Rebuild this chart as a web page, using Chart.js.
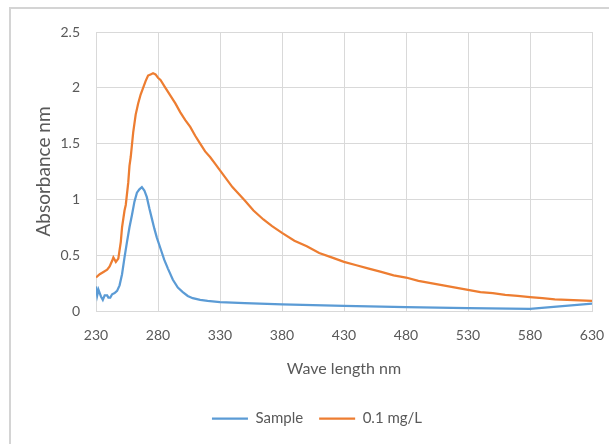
<!DOCTYPE html>
<html>
<head>
<meta charset="utf-8">
<script src="https://cdn.jsdelivr.net/npm/chart.js@4"></script>
<style>
html,body{margin:0;padding:0;background:#fff;}
#wrap{width:609px;height:444px;}
</style>
</head>
<body>
<div id="wrap"><canvas id="c" width="609" height="444"></canvas></div>
<script>
// Sample (blue)
const sampleWavelength = [230,231,232,233,234,235.5,237,239,240,241.5,243,245,247,249,251,253,255,257,259,261,263,265,267,269,271,273,275,277,279,282,285,288,292,296,300,304,308,314,320,330,350,380,430,480,530,580,630];
const sampleAbsorbance = [0.22,0.14,0.19,0.16,0.13,0.10,0.14,0.14,0.12,0.12,0.15,0.16,0.18,0.23,0.33,0.48,0.62,0.75,0.86,0.98,1.06,1.09,1.11,1.08,1.02,0.92,0.83,0.74,0.66,0.56,0.46,0.38,0.28,0.21,0.17,0.135,0.115,0.10,0.09,0.08,0.07,0.06,0.045,0.035,0.025,0.02,0.065];
// 0.1 mg/L (orange)
const stdWavelength = [230,233,236,239,241,243,244,246,248,250,251,253,254,256,257,258,260,262,264,266,268,270,272,274,276,278,280,282,286,290,294,298,302,306,310,314,318,322,326,330,340,350,357,365,372,380,390,400,410,420,430,440,450,460,470,480,490,500,510,520,530,540,550,560,570,580,590,600,610,620,630];
const stdAbsorbance = [0.30,0.33,0.35,0.37,0.40,0.45,0.48,0.44,0.47,0.62,0.75,0.90,0.95,1.15,1.30,1.38,1.60,1.76,1.86,1.94,2.00,2.06,2.11,2.12,2.13,2.12,2.09,2.07,2.00,1.93,1.86,1.78,1.71,1.65,1.57,1.50,1.43,1.38,1.32,1.26,1.11,0.99,0.90,0.82,0.76,0.70,0.63,0.58,0.52,0.48,0.44,0.41,0.38,0.35,0.32,0.30,0.27,0.25,0.23,0.21,0.19,0.17,0.16,0.145,0.135,0.125,0.115,0.105,0.10,0.095,0.09];
const seriesNames = ['Sample','0.1 mg/L'];
const xTitle = 'Wave length nm';
const yTitle = 'Absorbance nm';

const toPoints = (xs, ys) => xs.map((x, i) => ({x: x, y: ys[i]}));

const FONT = "'Lato', sans-serif";
const TXT = '#595959';
const GRID = '#d9d9d9';

const framePlugin = {
  id: 'frame',
  beforeDraw(chart) {
    const ctx = chart.ctx;
    ctx.save();
    ctx.fillStyle = '#fff';
    ctx.fillRect(0, 0, chart.width, chart.height);
    ctx.strokeStyle = '#d4d4d4';
    ctx.lineWidth = 2;
    ctx.strokeRect(10, 8, chart.width + 20, chart.height + 20);
    ctx.restore();
  }
};

new Chart(document.getElementById('c'), {
  type: 'line',
  data: {
    datasets: [
      {label: seriesNames[0], data: toPoints(sampleWavelength, sampleAbsorbance), borderColor: '#5B9BD5', backgroundColor: '#5B9BD5', borderWidth: 2.25, pointRadius: 0, tension: 0, fill: false},
      {label: seriesNames[1], data: toPoints(stdWavelength, stdAbsorbance), borderColor: '#ED7D31', backgroundColor: '#ED7D31', borderWidth: 2.25, pointRadius: 0, tension: 0, fill: false}
    ]
  },
  options: {
    responsive: false,
    animation: false,
    devicePixelRatio: 1,
    layout: {padding: {left: 28, right: 3, top: 32, bottom: 8}},
    plugins: {
      legend: {
        position: 'bottom',
        labels: {
          usePointStyle: true,
          pointStyle: 'line',
          pointStyleWidth: 36,
          boxWidth: 36,
          padding: 16,
          color: TXT,
          font: {family: FONT, size: 15}
        }
      },
      tooltip: {enabled: false}
    },
    scales: {
      x: {
        type: 'linear',
        min: 230, max: 630,
        ticks: {stepSize: 50, color: TXT, padding: 16, font: {family: FONT, size: 14}, maxRotation: 0},
        grid: {color: GRID, lineWidth: 1, drawTicks: false},
        border: {color: GRID},
        title: {display: true, text: xTitle, color: TXT, font: {family: FONT, size: 16}, padding: {top: 0, bottom: 17}},
        afterFit(s) { s.height = 84; s.paddingRight = 17; s.paddingLeft = 0; }
      },
      y: {
        min: 0, max: 2.5,
        ticks: {stepSize: 0.5, color: TXT, padding: 16, font: {family: FONT, size: 14}, callback: v => String(v)},
        grid: {color: GRID, lineWidth: 1, drawTicks: false},
        border: {color: GRID},
        title: {display: true, text: yTitle, color: TXT, font: {family: FONT, size: 19}, padding: {top: 4, bottom: 0}},
        afterFit(s) { s.width = 68; }
      }
    }
  },
  plugins: [framePlugin]
});
</script>
</body>
</html>
